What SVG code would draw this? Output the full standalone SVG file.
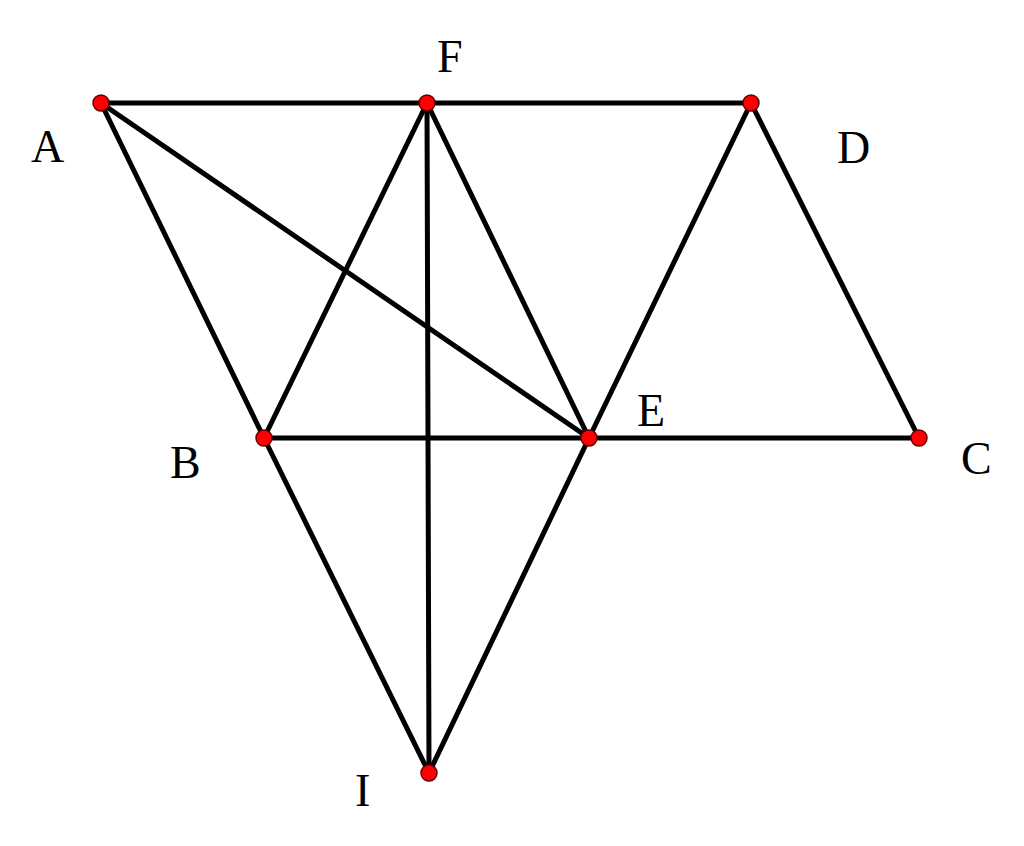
<svg xmlns="http://www.w3.org/2000/svg" width="1024" height="846" viewBox="0 0 1024 846">
<style>
.e{stroke:#000;stroke-width:5;stroke-linecap:round;fill:none}
.p{fill:#f00;stroke:#600;stroke-width:1.5}
.t{font-family:"Liberation Serif",serif;font-size:46px;fill:#000}
</style>
<rect width="1024" height="846" fill="#fff"/>
<g id="edges">
<line class="e" x1="101" y1="103" x2="427" y2="103"/>
<line class="e" x1="427" y1="103" x2="751" y2="103"/>
<line class="e" x1="101" y1="103" x2="264" y2="438"/>
<line class="e" x1="101" y1="103" x2="589" y2="438"/>
<line class="e" x1="427" y1="103" x2="264" y2="438"/>
<line class="e" x1="427" y1="103" x2="589" y2="438"/>
<line class="e" x1="427" y1="103" x2="429" y2="773"/>
<line class="e" x1="751" y1="103" x2="589" y2="438"/>
<line class="e" x1="751" y1="103" x2="919" y2="438"/>
<line class="e" x1="264" y1="438" x2="589" y2="438"/>
<line class="e" x1="589" y1="438" x2="919" y2="438"/>
<line class="e" x1="264" y1="438" x2="429" y2="773"/>
<line class="e" x1="589" y1="438" x2="429" y2="773"/>
</g>
<g id="A"><circle class="p" cx="101" cy="103" r="8"/><text class="t" x="31" y="162">A</text></g>
<g id="F"><circle class="p" cx="427" cy="103" r="8"/><text class="t" x="437" y="72">F</text></g>
<g id="D"><circle class="p" cx="751" cy="103" r="8"/><text class="t" x="837" y="163">D</text></g>
<g id="B"><circle class="p" cx="264" cy="438" r="8"/><text class="t" x="170" y="478">B</text></g>
<g id="E"><circle class="p" cx="589" cy="438" r="8"/><text class="t" x="637" y="426">E</text></g>
<g id="C"><circle class="p" cx="919" cy="438" r="8"/><text class="t" x="961" y="474">C</text></g>
<g id="I"><circle class="p" cx="429" cy="773" r="8"/><text class="t" x="355" y="806">I</text></g>
</svg>
